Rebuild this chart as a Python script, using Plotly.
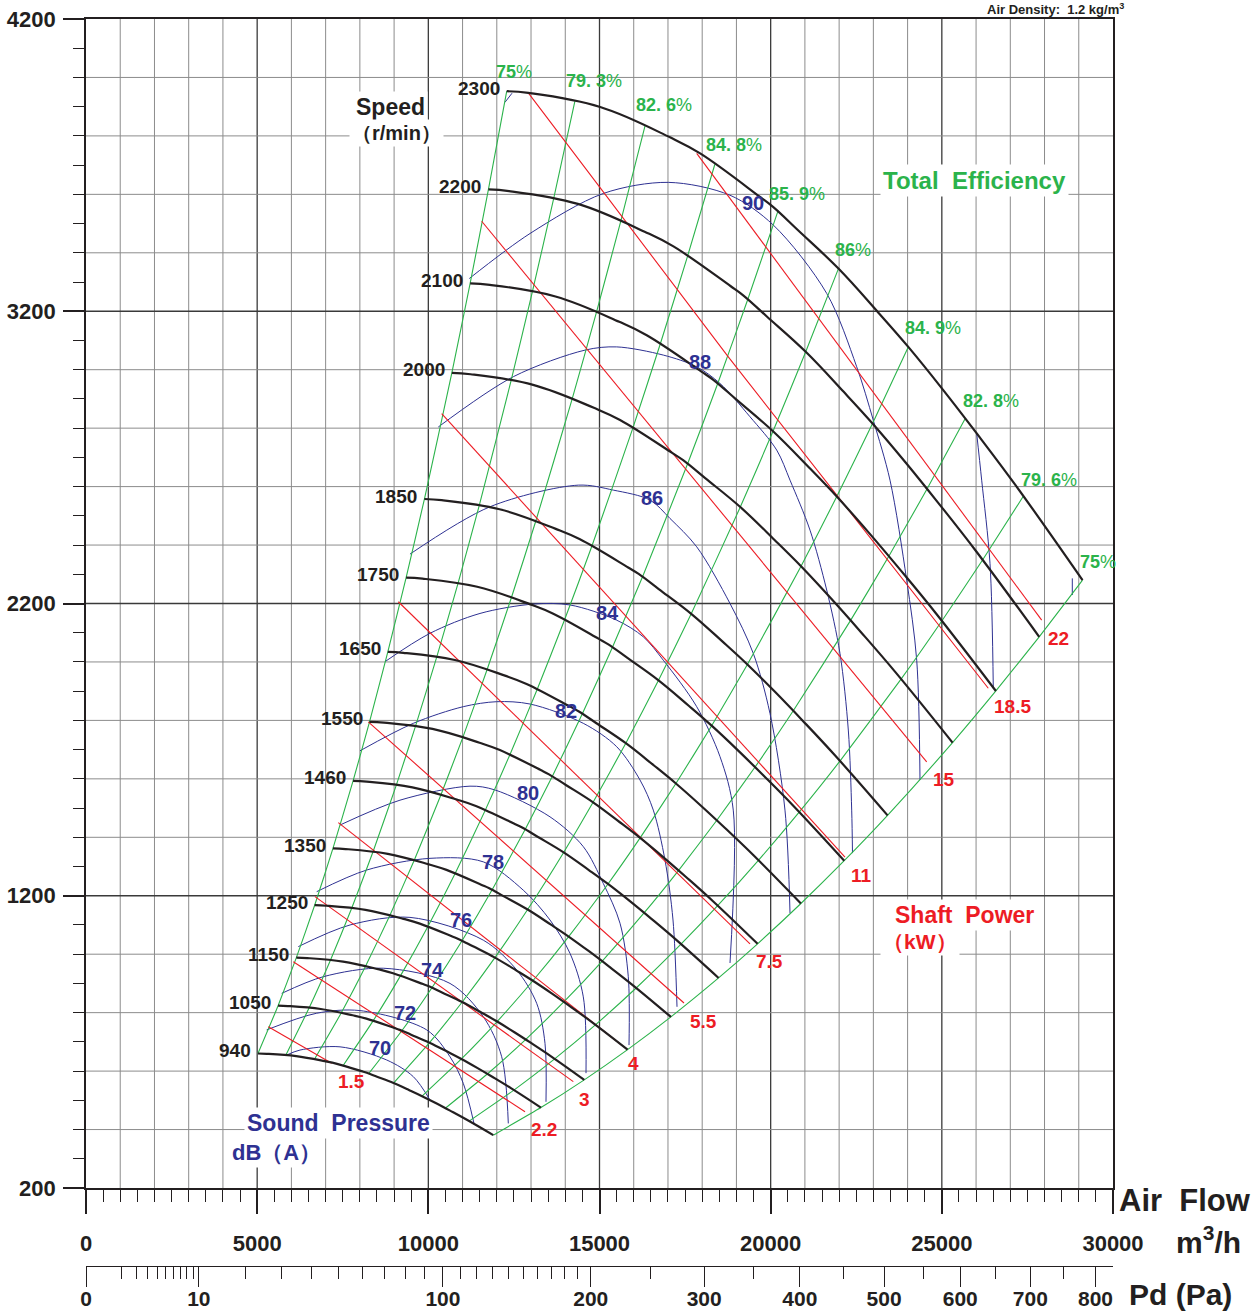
import plotly.graph_objects as go

# ---------------- data ----------------
SPEEDS = [940, 1050, 1150, 1250, 1350, 1460, 1550, 1650, 1750, 1850, 2000, 2100, 2200, 2300]
BASE_SPEED = 2300
# 2300 r/min curve (air flow m3/h, total pressure Pa)
BASE_FLOW = [12290, 12920, 15020, 17060, 17940, 19690, 20070, 20800, 21980, 23140, 24020, 25030, 26020, 27190, 29110]
BASE_PRES = [3953, 3947, 3899, 3795, 3740, 3591, 3557, 3477, 3346, 3196, 3078, 2932, 2782, 2599, 2280]

# iso-efficiency lines: where they meet the 2300 r/min curve
EFF_LABELS = ["75", "79. 3", "82. 6", "84. 8", "85. 9", "86", "84. 9", "82. 8", "79. 6", "75"]
EFF_FLOW_TOP = [12290, 14280, 16330, 18370, 20220, 21980, 24020, 25680, 27380, 29110]
EFF_PRES_TOP = [3953, 3918, 3834, 3703, 3545, 3346, 3078, 2832, 2567, 2280]

# shaft power lines (kW)
POWER_LABELS = ["1.5", "2.2", "3", "4", "5.5", "7.5", "11", "15", "18.5", "22"]
POWER_FLOW = [[5325, 7177], [6055, 12824], [6689, 14235], [7370, 15648], [8246, 17468],
              [9123, 19396], [10390, 22171], [11559, 17936, 24558], [12920, 18762, 26357], [17839, 27917]]
POWER_PRES = [[752, 627], [974, 461], [1197, 564], [1450, 689], [1795, 833],
              [2206, 1035], [2850, 1332], [3508, 2599, 1658], [3947, 3044, 1910], [3740, 2143]]

# sound pressure contours dB(A)
SOUND_LABELS = ["70", "72", "74", "76", "78", "80", "82", "84", "86", "88", "90"]
SOUND_FLOW = [
    [5863, 6251, 7420, 8784, 9561, 10049],
    [5278, 6739, 8004, 9952, 10633, 11021, 11334],
    [5717, 6932, 8684, 10633, 11606, 12143, 12336],
    [6202, 7712, 9464, 11606, 12581, 13165, 13408, 13437],
    [6739, 8200, 10049, 11606, 12774, 13554, 14138, 14527, 14606],
    [7420, 9172, 11217, 11947, 13554, 14527, 15111, 15599, 15841, 15862],
    [8004, 9561, 11021, 11997, 12970, 14527, 15502, 16183, 16572, 16913, 17147, 17264],
    [8734, 10049, 11509, 13066, 14138, 15502, 16279, 16864, 17839, 18520, 18908, 18812],
    [9464, 11801, 14381, 15403, 16475, 17059, 17839, 18812, 19493, 19980, 20418, 20565],
    [10291, 12482, 14576, 15502, 16864, 17839, 18520, 19396, 20176, 20565, 21149, 21637, 22025, 22268, 22367, 22390],
    [11197, 12970, 15111, 17010, 18812, 20077, 21637, 22513, 22998, 23486, 23973, 24266, 24362],
]
SOUND_PRES = [
    [655, 672, 683, 638, 581, 501],
    [741, 798, 807, 741, 649, 558, 421],
    [866, 923, 952, 900, 786, 649, 421],
    [1026, 1100, 1126, 1048, 946, 832, 695, 495],
    [1214, 1288, 1328, 1316, 1219, 1117, 1003, 854, 593],
    [1442, 1527, 1575, 1562, 1470, 1368, 1242, 1106, 923, 689],
    [1696, 1790, 1847, 1864, 1856, 1790, 1710, 1596, 1493, 1322, 1117, 820],
    [2001, 2098, 2166, 2198, 2195, 2143, 2086, 2006, 1847, 1676, 1493, 970],
    [2369, 2531, 2605, 2588, 2554, 2491, 2394, 2200, 2029, 1824, 1493, 1141],
    [2804, 2976, 3067, 3078, 3050, 3010, 2953, 2839, 2725, 2622, 2451, 2246, 2029, 1767, 1493, 1346],
    [3312, 3466, 3603, 3641, 3597, 3495, 3261, 3010, 2827, 2622, 2280, 2006, 1596],
]
# clipped pieces of higher contours
SOUND_TAIL_FLOW = [[12239, 12444], [26018, 26164, 26407, 26503], [28811, 28811]]
SOUND_TAIL_PRES = [[3915, 3946], [2782, 2622, 2337, 1910], [2286, 2229]]

# dynamic pressure scale
PD_TICKS = [0, 10, 100, 200, 300, 400, 500, 600, 700, 800]
PD_MINOR = [1, 2, 3, 4, 5, 6, 7, 8, 9, 20, 30, 40, 50, 60, 70, 80, 90,
            110, 120, 130, 140, 150, 160, 170, 180, 190, 250, 350, 450, 550, 650, 750]
PD_AT_30000 = 828

FLOW_TICKS = [0, 5000, 10000, 15000, 20000, 25000, 30000]
PRES_TICKS = [200, 1200, 2200, 3200, 4200]

# ---------------- label placement (layout only) ----------------
SOUND_LABEL_FLOW = [8588, 9318, 10107, 10954, 11889, 12911, 14021, 15248, 16533, 17935, 19484]
SOUND_LABEL_PRES = [679, 799, 946, 1117, 1315, 1551, 1832, 2167, 2561, 3026, 3570]
EFF_LABEL_FLOW = [12502, 14839, 16884, 18929, 20769, 22405, 24742, 26436, 28130, 29561]
EFF_LABEL_PRES = [4018, 3987, 3905, 3768, 3601, 3409, 3142, 2892, 2622, 2342]

# ---------------- styling ----------------
W, H = 1251, 1314
ML, MR, MT, MB = 86, 138, 19, 39
PW, PH = W - ML - MR, H - MT - MB
AXIS_BOTTOM_PX = 1188
FONT = "Liberation Sans, Arial, Helvetica, sans-serif"
BLACK = "#231f20"
GREEN = "#2bb34b"
RED = "#ed1c24"
BLUE = "#2e3192"
GRID_MINOR = "#8c8c8c"
GRID_MAJOR = "#3a3a3a"


def paper_x(px):
    return (px - ML) / PW


def paper_y(py):
    return (H - MB - py) / PH


fig = go.Figure()

# grid as shapes
shapes = []
for q in range(1000, 30000, 1000):
    major = q % 5000 == 0
    shapes.append(dict(type="line", xref="x", yref="y", x0=q, x1=q, y0=200, y1=4200, layer="below",
                       line=dict(color=GRID_MAJOR if major else GRID_MINOR, width=1.3 if major else 1)))
for p in range(400, 4200, 200):
    major = (p - 200) % 1000 == 0
    shapes.append(dict(type="line", xref="x", yref="y", x0=0, x1=30000, y0=p, y1=p, layer="below",
                       line=dict(color=GRID_MAJOR if major else GRID_MINOR, width=1.3 if major else 1)))

# sound pressure contours
for fq, pp in zip(SOUND_FLOW, SOUND_PRES):
    fig.add_trace(go.Scatter(x=fq, y=pp, mode="lines", line=dict(color=BLUE, width=1, shape="spline", smoothing=0.9),
                             hoverinfo="skip", showlegend=False))
for fq, pp in zip(SOUND_TAIL_FLOW, SOUND_TAIL_PRES):
    fig.add_trace(go.Scatter(x=fq, y=pp, mode="lines", line=dict(color=BLUE, width=1, shape="spline", smoothing=0.9),
                             hoverinfo="skip", showlegend=False))

# iso-efficiency lines (system parabolas through corresponding points of each speed curve)
for qt, pt in zip(EFF_FLOW_TOP, EFF_PRES_TOP):
    xs = [qt * n / BASE_SPEED for n in SPEEDS]
    ys = [pt * (n / BASE_SPEED) ** 2 for n in SPEEDS]
    fig.add_trace(go.Scatter(x=xs, y=ys, mode="lines", line=dict(color=GREEN, width=1.1, shape="spline", smoothing=0.5),
                             hoverinfo="skip", showlegend=False))

# shaft power lines
for fq, pp in zip(POWER_FLOW, POWER_PRES):
    fig.add_trace(go.Scatter(x=fq, y=pp, mode="lines", line=dict(color=RED, width=1.1),
                             hoverinfo="skip", showlegend=False))

# speed curves (fan laws applied to the 2300 r/min curve)
for n in SPEEDS:
    r = n / BASE_SPEED
    fig.add_trace(go.Scatter(x=[q * r for q in BASE_FLOW], y=[p * r * r for p in BASE_PRES], mode="lines",
                             line=dict(color=BLACK, width=2.2, shape="spline", smoothing=1.1),
                             hoverinfo="skip", showlegend=False))

# dummy trace to activate the dynamic-pressure axis
fig.add_trace(go.Scatter(x=[0, 30000], y=[None, None], xaxis="x2", yaxis="y", mode="lines",
                         hoverinfo="skip", showlegend=False))

ann = []
# speed labels
for n in SPEEDS:
    r = n / BASE_SPEED
    ann.append(dict(x=BASE_FLOW[0] * r, y=BASE_PRES[0] * r * r, xref="x", yref="y", text=str(n),
                    xanchor="right", yanchor="middle", xshift=-5, yshift=3, showarrow=False,
                    font=dict(family=FONT, size=19, color=BLACK, weight="bold")))
# efficiency labels
for lab, qx, py in zip(EFF_LABELS, EFF_LABEL_FLOW, EFF_LABEL_PRES):
    ann.append(dict(x=qx, y=py, xref="x", yref="y", text="<b>" + lab + "</b>%", showarrow=False,
                    xanchor="center", yanchor="middle",
                    font=dict(family=FONT, size=18, color=GREEN)))
# power labels at end of each line
for lab, fq, pp in zip(POWER_LABELS, POWER_FLOW, POWER_PRES):
    ann.append(dict(x=fq[-1], y=pp[-1], xref="x", yref="y", text=lab, showarrow=False,
                    xanchor="left", yanchor="middle", xshift=4, yshift=-18,
                    font=dict(family=FONT, size=19, color=RED, weight="bold")))
# sound labels
for lab, qx, py in zip(SOUND_LABELS, SOUND_LABEL_FLOW, SOUND_LABEL_PRES):
    ann.append(dict(x=qx, y=py, xref="x", yref="y", text=lab, showarrow=False,
                    xanchor="center", yanchor="middle",
                    font=dict(family=FONT, size=20, color=BLUE, weight="bold")))


def text_px(txt, cx, cy, size, color, bg=None, anchor="center"):
    d = dict(x=paper_x(cx), y=paper_y(cy), xref="paper", yref="paper", text=txt, showarrow=False,
             xanchor=anchor, yanchor="middle",
             font=dict(family=FONT, size=size, color=color, weight="bold"))
    if bg:
        d["bgcolor"] = bg
        d["borderpad"] = 2
    return d


NB = "\u00a0"
ann.append(text_px("Speed", 390, 107, 23, BLACK, "white"))
ann.append(text_px("（r/min）", 396, 133, 20, BLACK, "white"))
ann.append(text_px("Total" + NB + NB + "Efficiency", 974, 180, 24, GREEN, "white"))
ann.append(text_px("Shaft" + NB + NB + "Power", 964, 915, 23, RED, "white"))
ann.append(text_px("（kW）", 920, 941, 21, RED, "white"))
ann.append(text_px("Sound" + NB + NB + "Pressure", 338, 1123, 23, BLUE, "white"))
ann.append(text_px("dB（A）", 276, 1152, 22, BLUE, "white"))
ann.append(text_px("Air" + NB + NB + "Flow", 1185, 1200, 31, BLACK))
ann.append(text_px("m<sup>3</sup>/h", 1208, 1240, 30, BLACK))
ann.append(text_px("Pd (Pa)", 1180, 1294, 30, BLACK))
ann.append(text_px("Air" + NB + "Density:" + NB + NB + "1.2" + NB + "kg/m<sup>3</sup>", 1055, 9, 13, BLACK))

pd_pos = [30000 * (v / PD_AT_30000) ** 0.5 for v in PD_TICKS]
pd_minor_pos = [30000 * (v / PD_AT_30000) ** 0.5 for v in PD_MINOR]

tickfont = dict(family=FONT, size=22, color=BLACK, weight="bold")
pdfont = dict(family=FONT, size=21, color=BLACK, weight="bold")

fig.update_layout(
    width=W, height=H, margin=dict(l=ML, r=MR, t=MT, b=MB, autoexpand=False),
    paper_bgcolor="white", plot_bgcolor="white",
    shapes=shapes, annotations=ann, showlegend=False,
    xaxis=dict(range=[0, 30000], showgrid=False, zeroline=False, showline=True, linecolor=BLACK, linewidth=1.6,
               mirror=True, ticks="outside", tickmode="array", tickvals=FLOW_TICKS,
               ticktext=[str(v) for v in FLOW_TICKS], ticklen=24, tickwidth=1.5, tickcolor=BLACK,
               ticklabelstandoff=11, tickfont=tickfont, anchor="y",
               minor=dict(dtick=500, tick0=0, ticks="outside", ticklen=12, tickwidth=1.2, tickcolor=BLACK)),
    xaxis2=dict(range=[0, 30000], overlaying="x", anchor="free", position=paper_y(1266), side="bottom",
                showgrid=False, zeroline=False, showline=True, linecolor=BLACK, linewidth=1.4,
                ticks="outside", tickmode="array", tickvals=pd_pos, ticktext=[str(v) for v in PD_TICKS],
                ticklen=20, tickwidth=1.2, tickcolor=BLACK, tickfont=pdfont, ticklabelstandoff=-6,
                minor=dict(tickmode="array", tickvals=pd_minor_pos, ticks="outside", ticklen=12,
                           tickwidth=1, tickcolor=BLACK)),
    yaxis=dict(range=[200, 4200], domain=[paper_y(AXIS_BOTTOM_PX), 1], showgrid=False, zeroline=False,
               showline=True, linecolor=BLACK, linewidth=1.6, mirror=True, ticks="outside",
               tickmode="array", tickvals=PRES_TICKS, ticktext=[str(v) for v in PRES_TICKS],
               ticklen=21, tickwidth=1.5, tickcolor=BLACK, tickfont=tickfont, ticklabelstandoff=3,
               minor=dict(dtick=100, tick0=200, ticks="outside", ticklen=11, tickwidth=1.2, tickcolor=BLACK)),
)

fig.write_html("out.html")
